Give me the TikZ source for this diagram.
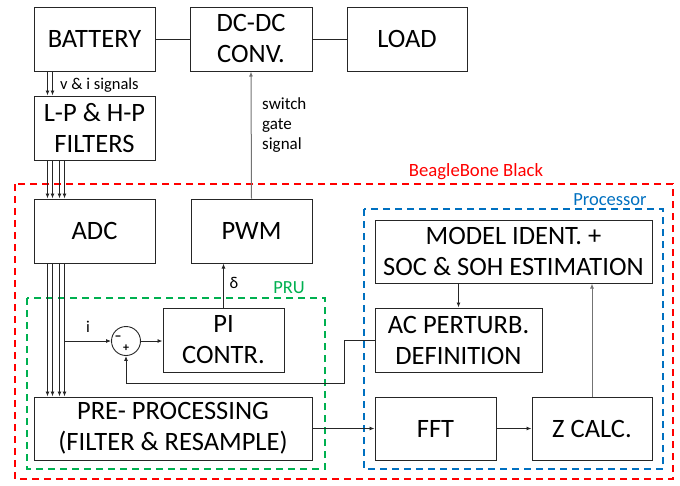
\documentclass[tikz,border=0pt]{standalone}
\usepackage{fontspec}
\setmainfont{Carlito}
\usetikzlibrary{arrows.meta,calc}
\definecolor{bbred}{RGB}{255,0,0}
\definecolor{procblue}{RGB}{0,112,192}
\definecolor{prugreen}{RGB}{0,176,80}
\tikzset{
  blk/.style={draw=black!85, line width=1pt, inner sep=0pt, align=center,
    font=\fontsize{26.5}{31}\selectfont},
  conn/.style={line width=0.9pt, draw=black!85},
  arr/.style={conn, -{Latex[length=5pt,width=4pt]}},
  garr/.style={line width=1pt, draw=black!55, -{Latex[length=5pt,width=4pt]}},
  region/.style={line width=1.6pt, dash pattern=on 7pt off 5pt},
  small/.style={font=\fontsize{16.5}{20}\selectfont, inner sep=0pt, align=left},
}
\newcommand{\bx}[6]{\node[blk, minimum width=#4pt-#2pt, minimum height=#5pt-#3pt] (#1) at ({(#2+#4)/2},{(#3+#5)/2}) {#6};}
\begin{document}
\begin{tikzpicture}[x=1pt,y=-1pt]
\useasboundingbox (0,0) rectangle (680,485);
% regions
\draw[region, draw=bbred] (15,184) rectangle (673,479);
\draw[region, draw=procblue] (364,209) rectangle (663,469);
\draw[region, draw=prugreen] (27,298) rectangle (325,469);
\node[font=\fontsize{18.7}{20}\selectfont, text=bbred] (lbb) at (476,172) {BeagleBone Black};
\node[font=\fontsize{18.5}{20}\selectfont, text=procblue] (lproc) at (610,200) {Processor};
\node[font=\fontsize{18.5}{20}\selectfont, text=prugreen] (lpru) at (289,288) {PRU};
% boxes
\bx{bat}{34}{7}{155}{71}{BATTERY}
\bx{dcdc}{190}{7}{312}{71}{DC-DC\\CONV.}
\bx{load}{347}{7}{467}{71}{LOAD}
\bx{filt}{34}{96}{155}{160}{L-P \& H-P\\FILTERS}
\bx{adc}{34}{199}{155}{263}{ADC}
\bx{pwm}{191}{199}{312}{263}{PWM}
\bx{pre}{34}{397}{312}{460}{PRE- PROCESSING\\(FILTER \& RESAMPLE)}
\bx{pi}{163}{308}{284}{372}{PI\\CONTR.}
\bx{model}{375}{220}{652}{283}{MODEL IDENT. +\\SOC \& SOH ESTIMATION}
\bx{ac}{375}{308}{542}{372}{AC PERTURB.\\DEFINITION}
\bx{fft}{375}{397}{496}{460}{FFT}
\bx{zc}{532}{397}{652}{460}{Z CALC.}
\node[draw=black!85, line width=0.9pt, circle, minimum size=29pt, inner sep=0pt] (sum) at (126,341) {};
\node[font=\fontsize{14}{14}\selectfont\bfseries, inner sep=0pt] (minus) at (118,338) {–};
\node[font=\fontsize{12}{12}\selectfont\bfseries, inner sep=0pt] (plus) at (126,348) {+};
% top connections
\draw[conn] (bat.east) -- (dcdc.west);
\draw[conn] (dcdc.east) -- (load.west);
\foreach \o in {14,19} {
  \draw[arr] ([xshift=\o pt]bat.south west) -- ([xshift=\o pt]filt.north west);
}
\node[small, anchor=west] (lvi) at (60,85) {v \& i signals};
\foreach \o in {14,19,26,31} {
  \draw[arr] ([xshift=\o pt]filt.south west) -- ([xshift=\o pt]adc.north west);
  \draw[arr] ([xshift=\o pt]adc.south west) -- ([xshift=\o pt]pre.north west);
}
\coordinate (l4) at ([xshift=31pt]adc.south west);
\draw[arr] (l4 |- sum.west) -- (sum.west);
\node[small] (li) at (88,327) {i};
\draw[arr] (sum.east) -- (pi.west |- sum.east);
\draw[arr] (pi.north) -- (pi.north |- pwm.south);
\node[small] (ldelta) at (234,283) {δ};
\draw[garr] (pwm.north) -- (dcdc.south);
\node[small, anchor=north west, font=\fontsize{17}{20}\selectfont] (lsw) at (262,97) {switch\\gate\\signal};
% feedback
\coordinate (fb) at (344,383);
\draw[arr] (ac.west) -| (fb) -| (sum.south);
% processor
\draw[arr] (model.south -| ac.north) -- (ac.north);
\draw[garr] (zc.north) -- (zc.north |- model.south);
\draw[arr] (pre.east) -- (fft.west |- pre.east);
\draw[arr] (fft.east) -- (zc.west);
\end{tikzpicture}
\end{document}
